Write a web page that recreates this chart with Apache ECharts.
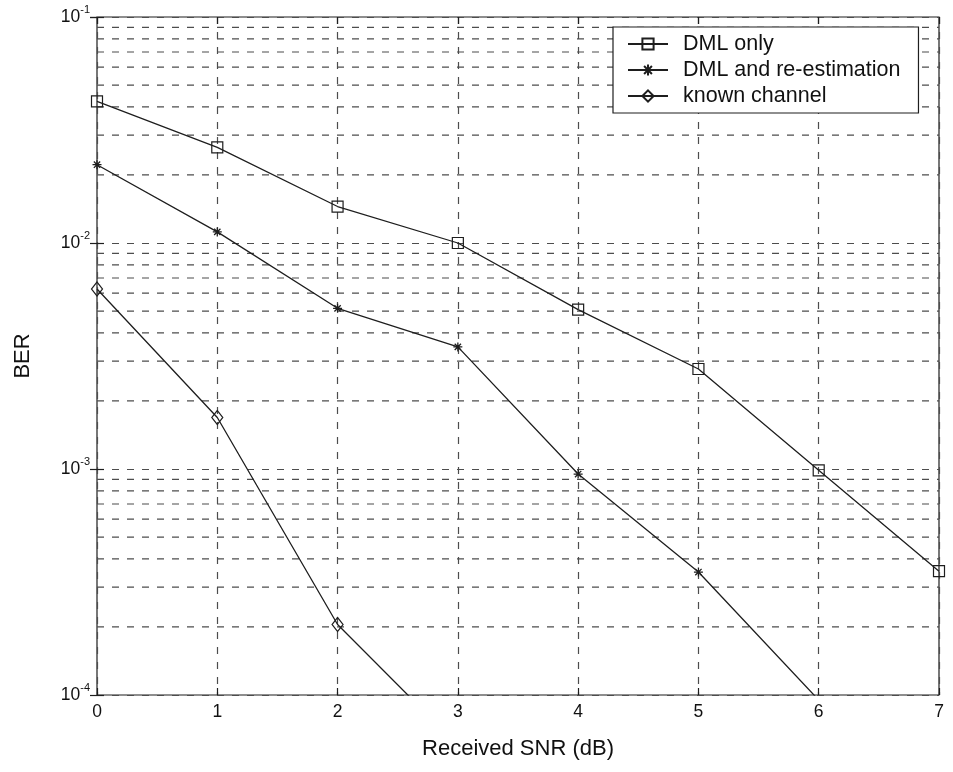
<!DOCTYPE html>
<html>
<head>
<meta charset="utf-8">
<script src="https://cdn.jsdelivr.net/npm/echarts@6/dist/echarts.min.js"></script>
<style>
  html, body { margin: 0; padding: 0; background: #ffffff; }
  #chart { width: 953px; height: 772px; }
</style>
</head>
<body>
<div id="chart"></div>
<script>
// SNR points (dB) on the horizontal axis
const snr = [0, 1, 2, 3, 4, 5, 6, 7];

// Bit error rate for each receiver
const dmlOnly      = [0.0423, 0.0265, 0.0145, 0.0100, 0.00507, 0.00277, 0.000987, 0.000353];
const dmlReest     = [0.0222, 0.0112, 0.00514, 0.00347, 0.00095, 0.00035, 0.000095];
const knownChannel = [0.00626, 0.00169, 0.000205, 0.00006];

const seriesNames = ['DML only', 'DML and re-estimation', 'known channel'];

// Minor (2..9 x decade) grid values of the log BER axis
const minorGrid = [
  2e-4, 3e-4, 4e-4, 5e-4, 6e-4, 7e-4, 8e-4, 9e-4,
  2e-3, 3e-3, 4e-3, 5e-3, 6e-3, 7e-3, 8e-3, 9e-3,
  2e-2, 3e-2, 4e-2, 5e-2, 6e-2, 7e-2, 8e-2, 9e-2
];

const FONT = '"Liberation Sans", Arial, Helvetica, sans-serif';
const INK = '#1e1e1e';
const GRID_INK = '#4d4d4d';
const dashStyle = { color: GRID_INK, width: 1.2, type: [7, 8] };

const pairs = (ys) => ys.map((y, i) => [snr[i], y]);

// asterisk marker drawn as stroked strokes
const starPath = 'path://M0,5L10,5M5,0L5,10M1.5,1.5L8.5,8.5M8.5,1.5L1.5,8.5';

const hollow = { color: 'rgba(0,0,0,0)', borderColor: INK, borderWidth: 1.2 };
const curveLine = { color: INK, width: 1.3 };

// dashed horizontal minor grid lines, one flat segment per value across the SNR range
const minorGridSeries = minorGrid.map((v) => ({
  type: 'line',
  data: [[snr[0], v], [snr[snr.length - 1], v]],
  symbol: 'none',
  silent: true,
  lineStyle: dashStyle,
  emphasis: { disabled: true },
  tooltip: { show: false },
  z: 1
}));

const chart = echarts.init(document.getElementById('chart'), null, { renderer: 'canvas' });

chart.setOption({
  animation: false,
  backgroundColor: '#ffffff',
  textStyle: { fontFamily: FONT, color: '#111' },
  grid: {
    left: 97, top: 17, width: 842, height: 678,
    show: true, borderColor: INK, borderWidth: 1.2, backgroundColor: 'transparent'
  },
  legend: {
    orient: 'vertical',
    left: 613, top: 27,
    padding: [6, 18, 6, 14],
    itemGap: 4,
    itemWidth: 40,
    itemHeight: 14,
    backgroundColor: '#ffffff',
    borderColor: INK,
    borderWidth: 1.2,
    borderRadius: 0,
    selectedMode: false,
    z: 10,
    textStyle: { fontFamily: FONT, fontSize: 21.5, color: '#111', padding: [0, 0, 0, 10] },
    data: seriesNames
  },
  xAxis: [
    {
      type: 'value', min: 0, max: 7, interval: 1,
      name: 'Received SNR (dB)', nameLocation: 'middle', nameGap: 43,
      nameTextStyle: { fontFamily: FONT, fontSize: 22, color: '#111' },
      axisLine: { show: false },
      axisTick: { show: true, inside: true, length: 7, lineStyle: { color: INK, width: 1.2 } },
      axisLabel: { fontFamily: FONT, fontSize: 17.5, color: '#111', margin: 8 },
      splitLine: { show: true, lineStyle: dashStyle }
    },
    {
      type: 'value', min: 0, max: 7, interval: 1, position: 'top',
      axisLine: { show: false },
      axisTick: { show: true, inside: true, length: 7, lineStyle: { color: INK, width: 1.2 } },
      axisLabel: { show: false },
      splitLine: { show: false }
    }
  ],
  yAxis: [
    {
      type: 'log', logBase: 10, min: 1e-4, max: 1e-1,
      name: 'BER', nameLocation: 'middle', nameGap: 63,
      nameTextStyle: { fontFamily: FONT, fontSize: 22, color: '#111' },
      axisLine: { show: false },
      axisTick: { show: true, inside: true, length: 7, lineStyle: { color: INK, width: 1.2 } },
      axisLabel: {
        margin: 7,
        formatter: (v) => '{b|10}{s|' + Math.round(Math.log10(v)) + '}',
        rich: {
          b: { fontFamily: FONT, fontSize: 17.5, color: '#111', lineHeight: 26 },
          s: { fontFamily: FONT, fontSize: 11, color: '#111', lineHeight: 12, verticalAlign: 'top' }
        }
      },
      splitLine: { show: true, lineStyle: dashStyle }
    },
    {
      type: 'log', logBase: 10, min: 1e-4, max: 1e-1, position: 'right',
      axisLine: { show: false },
      axisTick: { show: true, inside: true, length: 7, lineStyle: { color: INK, width: 1.2 } },
      axisLabel: { show: false },
      splitLine: { show: false }
    }
  ],
  series: minorGridSeries.concat([
    {
      name: seriesNames[0], type: 'line', data: pairs(dmlOnly),
      symbol: 'rect', symbolSize: 11,
      itemStyle: hollow, lineStyle: curveLine, clip: true, z: 3
    },
    {
      name: seriesNames[1], type: 'line', data: pairs(dmlReest),
      symbol: starPath, symbolSize: 9,
      itemStyle: { color: 'rgba(0,0,0,0)', borderColor: INK, borderWidth: 1.3 },
      lineStyle: curveLine, clip: true, z: 3
    },
    {
      name: seriesNames[2], type: 'line', data: pairs(knownChannel),
      symbol: 'diamond', symbolSize: [11, 14],
      itemStyle: hollow, lineStyle: curveLine, clip: true, z: 3
    }
  ])
});
</script>
</body>
</html>
